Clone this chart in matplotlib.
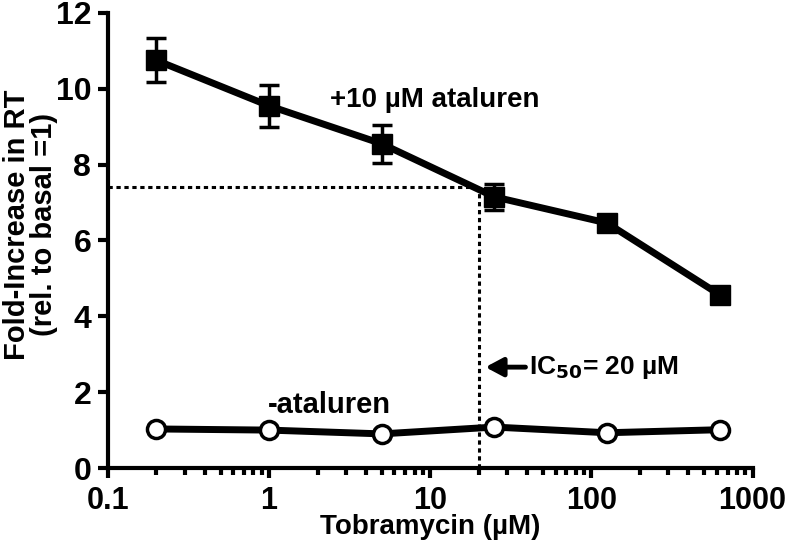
import matplotlib.pyplot as plt
import numpy as np

# tobramycin doses (uM), 5-fold dilution
dose = [0.2, 1, 5, 25, 125, 625]
# +10 uM ataluren
with_atal = [10.75, 9.55, 8.55, 7.15, 6.46, 4.57]
with_err = [0.58, 0.55, 0.5, 0.35, 0.22, 0.1]
# no ataluren
no_atal = [1.03, 1.0, 0.9, 1.08, 0.93, 1.01]

ic50 = 20
ic50_level = 7.4

bold = dict(fontweight='bold', family=['Liberation Sans', 'DejaVu Sans'])

fig = plt.figure(figsize=(7.93, 5.49), dpi=100)
ax = fig.add_axes([0.136, 0.1475, 0.813, 0.829])

# dotted IC50 guide lines
ax.plot([0.1, ic50], [ic50_level, ic50_level], color='k', lw=2.2, linestyle=(0, (1.4, 1.2)))
ax.plot([ic50, ic50], [0, ic50_level], color='k', lw=2.2, linestyle=(0, (1.4, 1.2)))

ax.errorbar(dose, with_atal, yerr=with_err, color='k', lw=5, marker='s', markersize=14,
            ecolor='k', elinewidth=2.5, capsize=7, capthick=2.5, zorder=3)
ax.plot(dose, no_atal, color='k', lw=5, marker='o', markersize=13, markerfacecolor='white',
        markeredgecolor='k', markeredgewidth=2.5, zorder=3)

ax.set_xscale('log')
ax.set_xlim(0.1, 1000)
ax.set_ylim(0, 12)
ax.set_yticks([0, 2, 4, 6, 8, 10, 12])
ax.set_xticks([0.1, 1, 10, 100, 1000])
ax.set_xticklabels(['0.1', '1', '10', '100', '1000'])

for s in ['top', 'right']:
    ax.spines[s].set_visible(False)
for s in ['left', 'bottom']:
    ax.spines[s].set_linewidth(3)

ax.tick_params(axis='y', which='major', length=7, width=3, direction='out', pad=5, labelsize=23)
ax.tick_params(axis='x', which='major', length=7, width=3, direction='out', pad=6, labelsize=22)
ax.tick_params(axis='x', which='minor', length=5, width=3, direction='out')
for lab in ax.get_xticklabels() + ax.get_yticklabels():
    lab.set_fontweight('bold')
    lab.set_family(['Liberation Sans', 'DejaVu Sans'])

ax.set_xlabel('Tobramycin (µM)', fontsize=20, **bold)
ax.xaxis.set_label_coords(0.5, -0.1)
ax.set_ylabel('Fold-Increase in RT\n(rel. to basal =1)', fontsize=21, linespacing=0.95, **bold)
ax.yaxis.set_label_coords(-0.077, 0.535)

ax.text(2.4, 9.7, '+10 µM ataluren', fontsize=20, va='center', ha='left', **bold)
ax.text(0.98, 1.66, '-ataluren', fontsize=21, va='center', ha='left', **bold)
ax.annotate('', xy=(22, 2.66), xytext=(39, 2.66),
            arrowprops=dict(arrowstyle='-|>,head_length=0.75,head_width=0.4', color='k', lw=3.5,
                            mutation_scale=14, shrinkA=0, shrinkB=0))
ax.text(41, 2.66, 'IC$_{\\mathbf{50}}$= 20 µM', fontsize=19, va='center', ha='left', **bold)

fig.savefig('out.png', dpi=100)
